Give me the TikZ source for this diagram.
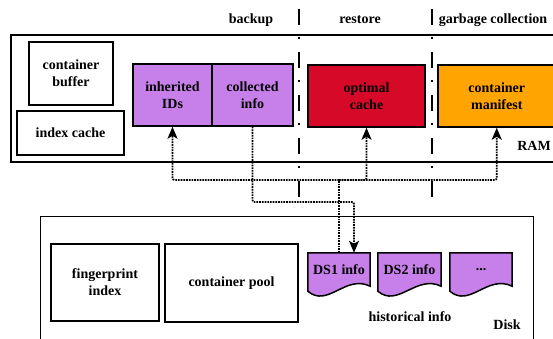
\documentclass[tikz,border=0pt]{standalone}
\usepackage{fontspec}
\setmainfont{Liberation Serif}
\usetikzlibrary{arrows.meta,backgrounds,calc}

\definecolor{lilac}{RGB}{199,128,234}
\definecolor{crimson}{RGB}{214,10,40}
\definecolor{amber}{RGB}{255,164,0}

\begin{document}
\begin{tikzpicture}[x=1pt,y=-1pt,
  font=\fontsize{14}{17}\selectfont\bfseries,
  box/.style={draw, line width=1.5pt, align=center, inner sep=0pt},
  frame/.style={draw, inner sep=0pt, anchor=north west},
  docline/.style={draw, line width=1.5pt, fill=lilac},
  docnode/.style={minimum height=34pt, inner sep=0pt},
  link/.style={densely dotted, line width=1.7pt, rounded corners=2pt},
  tip/.style={-{Stealth[length=12pt,width=10pt,inset=3pt]}},
  phase/.style={line width=1.2pt, dash pattern=on 16pt off 12pt on 2pt off 13pt},
]
\useasboundingbox (0,0) rectangle (553,339);
\clip (0,0) rectangle (553,339);

% phase headers and separators
\node (hbackup) at (251,20) {backup};
\node (hrestore) at (360,20) {restore};
\node (hgc) at (493,20) {garbage collection};
\draw[phase] (299,9) -- (299,200);
\draw[phase] (432,9) -- (432,200);

% RAM
\node[frame, line width=2pt, minimum width=550pt, minimum height=127pt] (ram) at (10,34) {};
\node (ramlbl) at (534,146) {RAM};
\node[box, minimum width=84pt, minimum height=63pt] (cbuf) at (71,73.5) {container\\buffer};
\node[box, minimum width=107pt, minimum height=44pt] (icache) at (70.5,133) {index cache};
\node[box, fill=lilac, minimum width=79pt, minimum height=62pt] (inh) at (172.5,95) {inherited\\IDs};
\node[box, fill=lilac, minimum width=81pt, minimum height=62pt] (col) at (252.5,95) {collected\\info};
\node[box, fill=crimson, minimum width=117pt, minimum height=62pt] (opt) at (366.5,96) {optimal\\cache};
\node[box, fill=amber, minimum width=118pt, minimum height=62pt, anchor=west] (man) at (437,96) {container\\manifest};

% Disk
\node[frame, line width=1pt, minimum width=493pt, minimum height=140pt] (disk) at (40,216) {};
\node (disklbl) at (507,325) {Disk};
\node[box, minimum width=108pt, minimum height=77pt] (fp) at (105,282.5) {fingerprint\\index};
\node[box, minimum width=133pt, minimum height=78pt] (pool) at (231.5,283) {container pool};
\node[docnode, minimum width=62pt] (ds1) at (339,270) {DS1 info};
\node[docnode, minimum width=63pt] (ds2) at (409.5,270) {DS2 info};
\node[docnode, minimum width=62pt] (ds3) at (481,270) {...};
\node (hist) at (410,317) {historical info};

\begin{scope}[on background layer]
  \foreach \n in {ds1,ds2,ds3}
    \draw[docline] (\n.north west) -- (\n.north east) -- ($(\n.south east)+(0,-1)$)
      .. controls ($(\n.south east)+(-25,-13)$) and ($(\n.south west)+(20,21)$)
      .. ($(\n.south west)+(0,4)$) -- cycle;
\end{scope}

% connectors
\coordinate (hub) at (339,180);
\coordinate (bend) at (354,202);
\draw[link] (ds1.north) -- (hub);
\draw[link, tip] (hub) -| (inh.south);
\draw[link, tip] (hub) -| (opt.south);
\draw[link, tip] (hub) -| (man.south);
\draw[link, tip] (col.south) |- (bend) -- (bend |- ds1.north);
\end{tikzpicture}
\end{document}
